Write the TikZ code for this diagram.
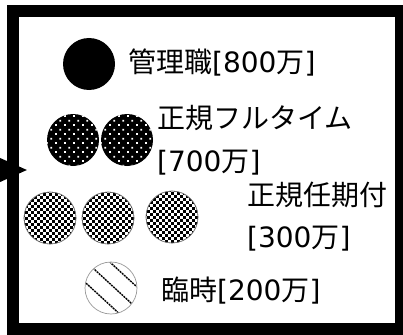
\documentclass[tikz,border=0pt]{standalone}
\usepackage{fontspec}
\newfontfamily\jp{Noto Sans CJK JP}
\newfontfamily\latf{DejaVu Sans}
\newcommand{\lt}[1]{{\latf #1}}
\usetikzlibrary{patterns.meta,arrows.meta}
\tikzdeclarepattern{name=whitedots, type=uncolored,
  bounding box={(0pt,0pt) and (9pt,9pt)}, tile size={(9pt,9pt)},
  code={\fill (1.25pt,1.25pt) rectangle (3.25pt,3.25pt);
        \fill (5.75pt,5.75pt) rectangle (7.75pt,7.75pt);}}
\newcommand{\checkfill}[1]{%
  \begin{scope}
    \clip (#1.center) circle (26pt);
    \foreach \i in {0,...,18}{
      \pgfmathsetmacro{\off}{mod(\i,2)*3}
      \foreach \j in {0,2,...,18}{
        \fill[black] ($(#1.center)+(-28+\j*3+\off,-28+\i*3)$) rectangle ++(3,3);
      }
    }
  \end{scope}}
\usetikzlibrary{calc}
\tikzset{
  coin/.style={circle, minimum size=52pt, inner sep=0pt},
  mgr/.style={coin, fill=black},
  full/.style={coin, preaction={fill=black}, pattern=whitedots, pattern color=white},
  fixed/.style={coin, draw=gray, line width=0.6pt},
  temp/.style={coin, draw=gray!80, line width=0.7pt, fill=white},
  hatch/.style={line width=1.4pt, dash pattern=on 2pt off 0.8pt},
  lab/.style={anchor=west, inner sep=0pt, font=\jp\fontsize{28}{30}\selectfont},
  frame/.style={line width=12pt}
}
\begin{document}
\begin{tikzpicture}[x=1pt,y=-1pt]
\useasboundingbox (0,0) rectangle (403,334);
\fill[white] (0,0) rectangle (403,334);
\begin{scope}
\clip (0,0) rectangle (403,334);
\draw[frame] (13,11.5) rectangle (401,329);
\coordinate (arrS) at (-40,170);
\coordinate (arrE) at (27,170);
\draw[line width=3pt, -{Triangle[length=30pt,width=26pt]}] (arrS) -- (arrE);
\end{scope}

\node[mgr] (m) at (89,64) {};
\node[full] (f1) at (73,140) {};
\node[full] (f2) at (127,140) {};
\node[fixed] (k1) at (50,218) {};
\node[fixed] (k2) at (108,218) {};
\node[fixed] (k3) at (172,217) {};
\checkfill{k1}
\checkfill{k2}
\checkfill{k3}
\node[fixed] at (k1) {};
\node[fixed] at (k2) {};
\node[fixed] at (k3) {};
\node[temp] (t) at (111,288) {};
\begin{scope}
\clip (t.center) circle (25.5pt);
\draw[hatch] (101.3,254.2) -- (145.5,294.8);
\draw[hatch] (90.6,265.9) -- (134.8,306.5);
\draw[hatch] (79.9,277.5) -- (124.1,318.1);
\end{scope}

\node[lab] (lm) at (128,63) {管理職\lt{[800}万\lt{]}};
\node[lab] (lf1) at (157,117.5) {正規フルタイム};
\node[lab] (lf2) at (157,163) {\lt{[700}万\lt{]}};
\node[lab] (lk1) at (247,195) {正規任期付};
\node[lab] (lk2) at (247,239) {\lt{[300}万\lt{]}};
\node[lab] (lt) at (161,291) {臨時\lt{[200}万\lt{]}};
\end{tikzpicture}
\end{document}
